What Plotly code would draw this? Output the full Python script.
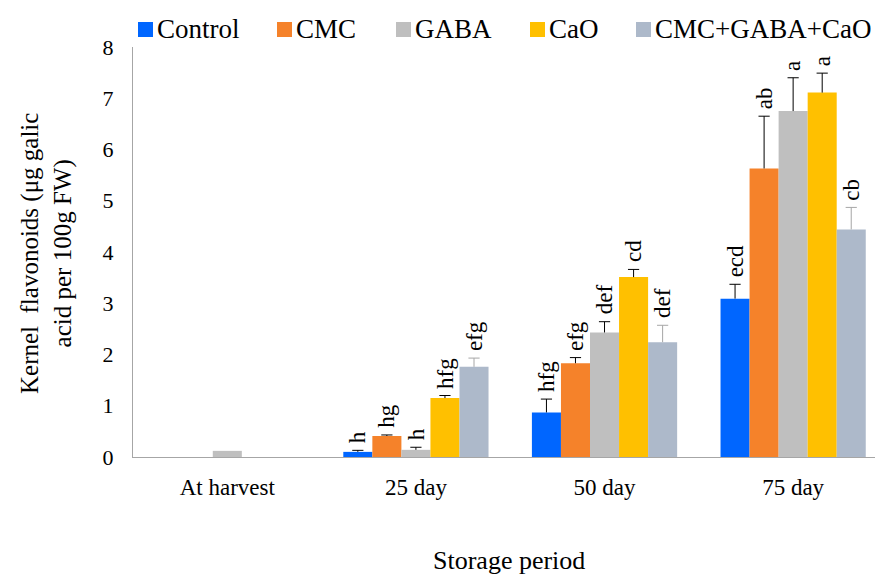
import numpy as np
import plotly.graph_objects as go

# Storage periods on the x axis
periods = ["At harvest", "25 day", "50 day", "75 day"]

# Treatment means (µg galic acid per 100 g FW)
control = [0.0, 0.10, 0.87, 3.09]
cmc = [0.0, 0.41, 1.83, 5.63]
gaba = [0.12, 0.14, 2.43, 6.75]
cao = [0.0, 1.15, 3.51, 7.11]
combo = [0.0, 1.76, 2.24, 4.44]

# Standard errors (upper whisker only; None = no whisker drawn)
control_err = [None, 0.03, 0.26, 0.28]
cmc_err = [None, 0.02, 0.11, 1.02]
gaba_err = [None, 0.05, 0.21, 0.65]
cao_err = [None, 0.05, 0.15, 0.38]
combo_err = [None, 0.17, 0.33, 0.43]

# Significance letters (Duncan groups)
control_sig = ["", "h", "hfg", "ecd"]
cmc_sig = ["", "hg", "efg", "ab"]
gaba_sig = ["", "h", "def", "a"]
cao_sig = ["", "hfg", "cd", "a"]
combo_sig = ["", "efg", "def", "cb"]

series = [
    ("Control", control, control_err, control_sig, "#0066FF", "black"),
    ("CMC", cmc, cmc_err, cmc_sig, "#F5822A", "black"),
    ("GABA", gaba, gaba_err, gaba_sig, "#BFBFBF", "black"),
    ("CaO", cao, cao_err, cao_sig, "#FFC000", "black"),
    ("CMC+GABA+CaO", combo, combo_err, combo_sig, "#ADB9CA", "#A6A6A6"),
]

FONT = "Liberation Serif"
n = len(series)
bargap = 0.23
slot = (1 - bargap) / n
XRANGE = [-0.5, 3.434]

# Plot-area geometry in pixels
W, H = 875, 576
L, R, T, B = 133, 875, 47, 457


def px_x(px):
    return (px - L) / (R - L)


def px_y(py):
    return (B - py) / (B - T)


fig = go.Figure()
annotations = []
shapes = []
for i, (name, vals, errs, sigs, color, ecolor) in enumerate(series):
    fig.add_trace(go.Bar(
        name=name, x=periods, y=vals, showlegend=False,
        marker=dict(color=color, line=dict(width=0)),
    ))

    # Upper-only whiskers on a hidden numeric axis that mirrors the category axis
    offset = -0.5 + bargap / 2 + slot * (i + 0.5)
    wx, wy, cx, cy = [], [], [], []
    for j, (v, e) in enumerate(zip(vals, errs)):
        if e is None:
            continue
        xc = j + offset
        wx += [xc, xc, None]
        wy += [v, v + e, None]
        cx.append(xc)
        cy.append(v + e)
    fig.add_trace(go.Scatter(
        x=wx, y=wy, xaxis="x2", mode="lines", showlegend=False,
        line=dict(color=ecolor, width=1), hoverinfo="skip",
    ))
    fig.add_trace(go.Scatter(
        x=cx, y=cy, xaxis="x2", mode="markers", showlegend=False,
        marker=dict(symbol="line-ew", size=8,
                    line=dict(color=ecolor, width=1)),
        hoverinfo="skip",
    ))

    for j, s in enumerate(sigs):
        if not s:
            continue
        annotations.append(dict(
            x=j + offset, y=vals[j] + (errs[j] or 0), xref="x2", yref="y",
            text=s, textangle=-90, showarrow=False,
            xanchor="center", yanchor="bottom", yshift=5,
            font=dict(family=FONT, size=23, color="black"),
        ))

# Legend row across the top: colour square followed by the series name
legend_left = [138, 277, 396, 530, 636]
for (name, _, _, _, color, _), x0 in zip(series, legend_left):
    shapes.append(dict(
        type="rect", xref="paper", yref="paper",
        x0=px_x(x0), x1=px_x(x0 + 15), y0=px_y(37), y1=px_y(22),
        fillcolor=color, line=dict(width=0),
    ))
    annotations.append(dict(
        x=px_x(x0 + 17), y=px_y(29), xref="paper", yref="paper",
        text=name, showarrow=False, xanchor="left", yanchor="middle",
        font=dict(family=FONT, size=27, color="black"),
    ))

# Axis titles
annotations.append(dict(
    x=px_x(509), y=px_y(560), xref="paper", yref="paper",
    text="Storage period", showarrow=False, xanchor="center", yanchor="middle",
    font=dict(family=FONT, size=26, color="black"),
))
annotations.append(dict(
    x=px_x(46), y=px_y(254), xref="paper", yref="paper",
    text="Kernel  flavonoids (μg galic<br>acid per 100g FW)",
    textangle=-90, showarrow=False, xanchor="center", yanchor="middle",
    font=dict(family=FONT, size=25, color="black"),
))

fig.update_layout(
    width=W, height=H,
    margin=dict(l=L, r=W - R, t=T, b=H - B),
    barmode="group", bargap=bargap, bargroupgap=0,
    plot_bgcolor="white", paper_bgcolor="white",
    font=dict(family=FONT, size=22, color="black"),
    showlegend=False,
    xaxis=dict(range=XRANGE, showline=True, linecolor="#A6A6A6",
               linewidth=1, ticks="", showgrid=False,
               tickfont=dict(family=FONT, size=23), ticklabelstandoff=9),
    xaxis2=dict(range=XRANGE, overlaying="x", visible=False),
    yaxis=dict(range=[0, 8], dtick=1, showline=True, linecolor="#A6A6A6",
               linewidth=1, ticks="", showgrid=False, zeroline=False,
               tickfont=dict(family=FONT, size=22), ticklabelstandoff=14),
    annotations=annotations,
    shapes=shapes,
)

fig.write_html("out.html")
